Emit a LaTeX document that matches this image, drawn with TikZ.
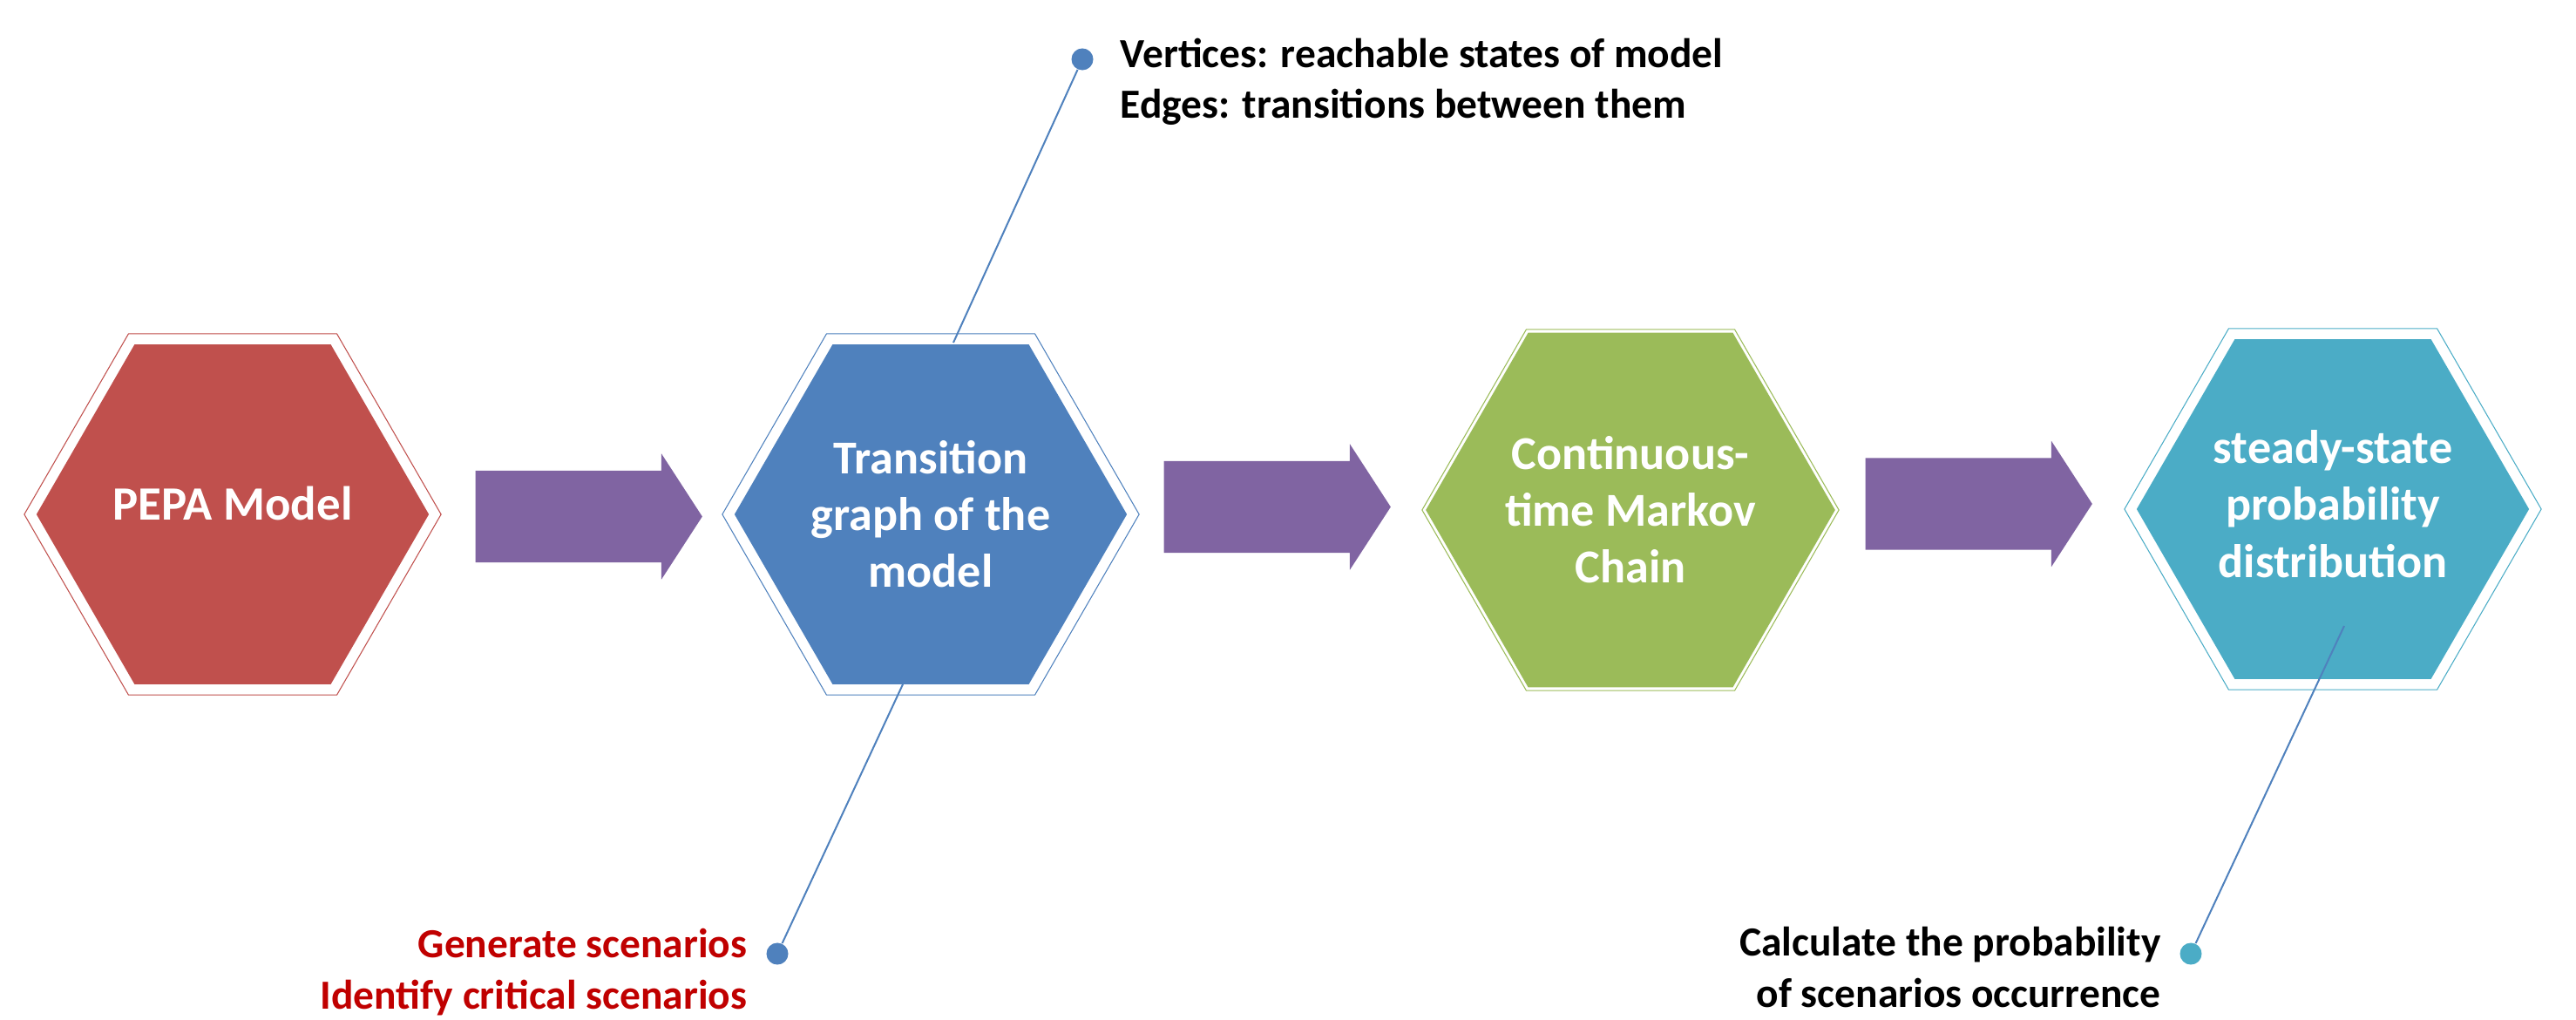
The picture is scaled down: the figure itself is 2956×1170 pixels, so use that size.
\documentclass[tikz,border=0pt]{standalone}
\usepackage{tikz}
\usepackage{xcolor}
\usepackage{fontspec}
\setmainfont{Carlito}
\usetikzlibrary{shapes.geometric,shapes.arrows}

\definecolor{hexred}{HTML}{C0504D}
\definecolor{hexblue}{HTML}{4F81BD}
\definecolor{hexgreen}{HTML}{9BBB59}
\definecolor{hexteal}{HTML}{4BACC6}
\definecolor{arrowpurple}{HTML}{8064A2}
\definecolor{notered}{HTML}{C00000}

\begin{document}
\begin{tikzpicture}[x=0.01cm,y=-0.01cm,
		hexfill/.style={regular polygon,regular polygon sides=6,minimum size=4.5cm,inner sep=0pt,
			text=white,align=center,font=\bfseries\fontsize{15.4}{18.5}\selectfont},
		hexring/.style={regular polygon,regular polygon sides=6,minimum size=4.78cm,inner sep=0pt,line width=0.3pt},
		flowarrow/.style={single arrow,fill=arrowpurple,minimum height=2.6cm,minimum width=1.43cm,anchor=tail,
			inner xsep=0pt,inner ysep=0.52cm,single arrow head extend=0.195cm,single arrow tip angle=114},
		dot/.style={circle,inner sep=0pt,minimum size=0.25cm},
		callout/.style={draw=hexblue,line width=0.57pt},
		note/.style={inner sep=0pt,font=\bfseries\fontsize{13.5}{16.5}\selectfont}]
				\useasboundingbox (0,0) rectangle (2956,1170);

				% the four steps
				\node[hexfill,fill=hexred,text depth=0.25cm,font=\bfseries\fontsize{15.6}{19}\selectfont] (pepa) at (267,590) {PEPA Model};
				\node[hexring,draw=hexred] (peparing) at (pepa.center) {};
				\node[hexfill,fill=hexblue] (graph) at (1068,590) {Transition\\graph of the\\model};
				\node[hexring,draw=hexblue] (graphring) at (graph.center) {};
				\node[hexfill,fill=hexgreen] (ctmc) at (1871,585) {Continuous-\\time Markov\\Chain};
				\node[hexring,draw=hexgreen] (ctmcring) at (ctmc.center) {};
				\node[hexfill,fill=hexteal,text depth=0.12cm] (steady) at (2677,584) {steady-state\\probability\\distribution};
				\node[hexring,draw=hexteal] (steadyring) at (steady.center) {};

				% arrows between them
				\node[flowarrow] (arrowa) at (545,592.5) {};
				\node[flowarrow] (arrowb) at (1335,581.5) {};
				\node[flowarrow] (arrowc) at (2140,578) {};

				% callouts
				\node[dot,fill=hexblue] (vdot) at (1242,68) {};
				\coordinate (vend) at (1094,393);
				\draw[callout] (vdot) -- (vend);
				\node[note,anchor=base west,align=left] (vtext) at (1285,136) {Vertices: reachable states of model\\Edges: transitions between them};

				\node[dot,fill=hexblue] (gdot) at (892,1094) {};
				\coordinate (gend) at (1036,785);
				\draw[callout] (gdot) -- (gend);
				\node[note,anchor=base east,align=right,text=notered] (gtext) at (858,1157) {Generate scenarios\\Identify critical scenarios};

				\node[dot,fill=hexteal] (pdot) at (2514,1094) {};
				\coordinate (pend) at (2690,718);
				\draw[callout] (pdot) -- (pend);
				\node[note,anchor=base east,align=right] (ptext) at (2480,1155) {Calculate the probability\\of scenarios occurrence};

				%\draw[red] (0,0) rectangle (2956,1170);
			\end{tikzpicture}
\end{document}
